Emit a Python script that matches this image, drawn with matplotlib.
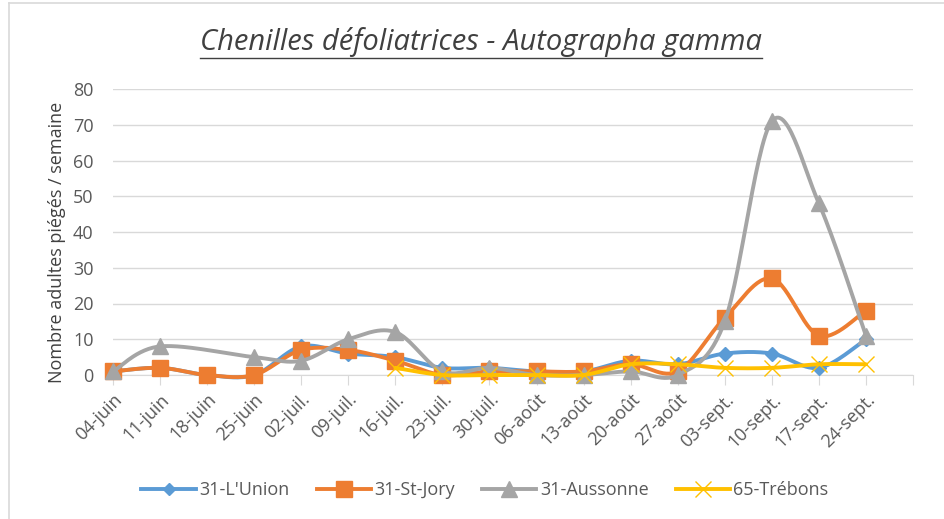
import numpy as np
import matplotlib
matplotlib.use("Agg")
import matplotlib.pyplot as plt
from matplotlib.lines import Line2D

plt.rcParams['font.family'] = ['Open Sans', 'DejaVu Sans']

categories = ["04-juin", "11-juin", "18-juin", "25-juin", "02-juil.", "09-juil.", "16-juil.",
              "23-juil.", "30-juil.", "06-août", "13-août", "20-août", "27-août",
              "03-sept.", "10-sept.", "17-sept.", "24-sept."]
nan = np.nan
lunion    = [1, 2, 0, 0, 8, 6, 5, 2, 2, 1, 1, 4, 3, 6, 6, 2, 10]
stjory    = [1, 2, 0, 0, 7, 7, 4, 0, 1, 1, 1, 3, 1, 16, 27, 11, 18]
aussonne  = [1, 8, nan, 5, 4, 10, 12, 1, 2, 0, 0, 1, 0, 15, 71, 48, 11]
trebons   = [nan, nan, nan, nan, nan, nan, 2, 0, 0, 0, 0, 3, 3, 2, 2, 3, 3]
series_names = ["31-L'Union", "31-St-Jory", "31-Aussonne", "65-Trébons"]
yticks = [0, 10, 20, 30, 40, 50, 60, 70, 80]

colors = ["#5B9BD5", "#ED7D31", "#A5A5A5", "#FFC000"]
markers = ["D", "s", "^", "x"]
msizes = [7.5, 12, 12, 11]


def smooth(x, y, n=30):
    x = np.asarray(x, float)
    y = np.asarray(y, float)
    m = ~np.isnan(y)
    x, y = x[m], y[m]
    P = np.column_stack([x, y])
    ext = np.vstack([P[0], P, P[-1]])
    out = []
    t = np.linspace(0, 1, n)[:, None]
    for i in range(1, len(ext) - 2):
        p0, p1, p2, p3 = ext[i - 1], ext[i], ext[i + 1], ext[i + 2]
        c1 = p1 + (p2 - p0) / 6.0
        c2 = p2 - (p3 - p1) / 6.0
        b = ((1 - t) ** 3) * p1 + 3 * ((1 - t) ** 2) * t * c1 + 3 * (1 - t) * t ** 2 * c2 + t ** 3 * p2
        out.append(b if i == 1 else b[1:])
    out = np.vstack(out)
    return out[:, 0], out[:, 1], x, y


fig = plt.figure(figsize=(9.45, 5.19), dpi=100)
ax = fig.add_axes([113 / 945, 1 - 375 / 519, (913 - 113) / 945, (375 - 89) / 519])

xs = np.arange(len(categories))
for vals, c, mk, ms, name in zip([lunion, stjory, aussonne, trebons], colors, markers, msizes, series_names):
    sx, sy, px, py = smooth(xs, vals)
    ax.plot(sx, sy, color=c, lw=2.8, solid_capstyle='round', zorder=3, clip_on=False)
    if mk == "x":
        ax.plot(px, py, linestyle='none', marker=mk, ms=ms, mew=1.0, color=c, zorder=3, clip_on=False)
    else:
        ax.plot(px, py, linestyle='none', marker=mk, ms=ms, color=c, mec=c, zorder=3, clip_on=False)

ax.set_xlim(0, len(categories))
ax.set_ylim(0, 80)
ax.set_yticks(yticks)
ax.set_yticklabels([str(v) for v in yticks])
ax.set_xticks(np.arange(len(categories) + 1))
ax.set_xticklabels(categories + [""], rotation=45, ha='right', va='top', rotation_mode='anchor')
ax.grid(axis='y', color='#D9D9D9', lw=1.0)
ax.set_axisbelow(True)
for s in ['top', 'right', 'left']:
    ax.spines[s].set_visible(False)
ax.spines['bottom'].set_color('#D9D9D9')
ax.tick_params(axis='y', length=0, pad=14, labelsize=13, labelcolor='#595959')
ax.tick_params(axis='x', length=7, color='#D9D9D9', pad=4, labelsize=13, labelcolor='#595959')
ax.set_ylabel("Nombre adultes piégés / semaine", fontsize=13, color='#404040')
ax.yaxis.set_label_coords(-47 / 800, 0.465)

title = fig.text(481 / 945, 1 - 42 / 519, "Chenilles défoliatrices - Autographa gamma",
                 ha='center', va='center', fontsize=21, style='italic', color='#404040')

handles = [Line2D([0], [0], color=c, lw=2.8, marker=mk, ms=(ms if mk != 'D' else 6), mew=1.0)
           for c, mk, ms in zip(colors, markers, msizes)]
leg = fig.legend(handles, series_names, loc='center', bbox_to_anchor=(485 / 945, 1 - 490 / 519),
                 ncol=4, frameon=False, fontsize=13, handlelength=3.0, columnspacing=1.5,
                 handletextpad=0.2, labelcolor='#595959')

# border lines
fig.add_artist(Line2D([9 / 945, 9 / 945], [0, 1 - 3 / 519], transform=fig.transFigure, color='#D9D9D9', lw=1.2))
fig.add_artist(Line2D([9 / 945, 1], [1 - 3 / 519, 1 - 3 / 519], transform=fig.transFigure, color='#D9D9D9', lw=1.2))

# underline title
fig.canvas.draw()
bb = title.get_window_extent(renderer=fig.canvas.get_renderer())
inv = fig.transFigure.inverted()
(x0, y0), (x1, y1) = inv.transform([[bb.x0, bb.y0], [bb.x1, bb.y1]])
uy = 1 - 58 / 519
fig.add_artist(Line2D([x0, x1], [uy, uy], transform=fig.transFigure, color='#404040', lw=1.0))

fig.savefig("out.png", dpi=100)
